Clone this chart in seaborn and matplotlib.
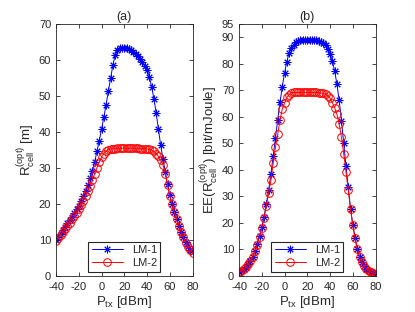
import numpy as np
import matplotlib
matplotlib.use('Agg')
import matplotlib.pyplot as plt
import seaborn as sns

# potência de transmissão (dBm), passo de 2 dB
p_tx = np.arange(-40, 81, 2)

# (a) raio ótimo da célula [m]
r_lm1 = [10.0, 10.9, 11.8, 12.7, 13.7, 14.7, 15.6, 16.5, 17.5, 18.5,
         19.5, 20.8, 22.1, 23.6, 25.3, 27.2, 29.3, 31.8, 34.6, 37.6,
         40.8, 44.1, 47.6, 51.3, 55.0, 58.6, 61.4, 62.7, 63.2, 63.3,
         63.3, 63.2, 63.0, 62.7, 62.3, 61.8, 61.1, 60.3, 59.4, 58.4,
         57.2, 55.4, 52.6, 49.3, 45.3, 40.8, 36.3, 32.5, 29.0, 25.5,
         22.5, 20.0, 17.8, 15.8, 14.0, 12.3, 10.8, 9.4, 8.2, 7.3, 6.6]
r_lm2 = [9.8, 10.6, 11.4, 12.2, 13.0, 13.9, 14.8, 15.7, 16.6, 17.6,
         18.6, 19.7, 20.9, 22.2, 23.6, 25.1, 26.7, 28.4, 30.1, 31.7,
         33.0, 34.0, 34.7, 35.1, 35.3, 35.4, 35.4, 35.5, 35.5, 35.5,
         35.5, 35.5, 35.5, 35.5, 35.5, 35.5, 35.5, 35.4, 35.4, 35.4,
         35.3, 35.2, 35.0, 34.6, 34.0, 33.2, 32.2, 30.9, 28.4, 25.3,
         22.3, 19.9, 17.7, 15.7, 13.9, 12.2, 10.7, 9.3, 8.1, 7.2, 6.5]

# (b) eficiência energética [bit/mJoule]
ee_lm1 = [1.5, 1.9, 2.6, 3.5, 4.5, 5.7, 7.2, 9.5, 11.9, 15.0,
          18.3, 22.3, 27.3, 32.3, 38.6, 45.1, 52.1, 58.9, 65.5, 71.4,
          76.6, 80.8, 84.0, 85.8, 87.2, 88.2, 88.7, 88.9, 88.9, 88.9,
          88.9, 88.9, 88.9, 88.9, 88.9, 88.7, 88.4, 87.9, 87.0, 85.6,
          83.7, 81.2, 77.4, 72.4, 66.2, 58.6, 50.1, 41.4, 33.6, 25.4,
          19.2, 14.2, 10.0, 7.1, 5.1, 3.6, 2.6, 1.9, 1.4, 1.1, 0.9]
ee_lm2 = [1.5, 1.9, 2.6, 3.5, 4.5, 5.7, 7.2, 9.4, 11.8, 14.8,
          18.0, 21.9, 26.5, 31.2, 36.0, 42.5, 48.5, 53.5, 58.8, 62.9,
          65.1, 67.3, 68.3, 69.0, 69.2, 69.2, 69.2, 69.2, 69.2, 69.2,
          69.2, 69.2, 69.2, 69.2, 69.2, 69.1, 69.0, 68.9, 68.6, 68.0,
          67.0, 65.4, 63.5, 61.0, 57.3, 52.3, 46.0, 39.2, 32.3, 25.1,
          19.2, 14.2, 10.0, 7.1, 5.1, 3.6, 2.6, 1.9, 1.4, 1.1, 0.9]

x_ticks = [-40, -20, 0, 20, 40, 60, 80]
cinza = '#262626'

sns.set_style('ticks')
plt.rcParams['font.family'] = ['Liberation Sans', 'DejaVu Sans']
plt.rcParams['xtick.direction'] = 'in'
plt.rcParams['ytick.direction'] = 'in'
plt.rcParams['axes.unicode_minus'] = False
plt.rcParams['mathtext.fontset'] = 'custom'
plt.rcParams['mathtext.rm'] = 'Liberation Sans'

fig = plt.figure(figsize=(4.15, 3.12), dpi=100)
ax1 = fig.add_axes([0.135, 0.1154, 0.329, 0.8077])
ax2 = fig.add_axes([0.576, 0.1154, 0.329, 0.8077])


def desenha(ax, y1, y2):
    sns.lineplot(x=p_tx, y=y1, ax=ax, color='blue', marker=(8, 2, 0), markersize=5.5,
                 markeredgecolor='blue', markeredgewidth=0.7, linewidth=0.7,
                 label='LM-1')
    sns.lineplot(x=p_tx, y=y2, ax=ax, color='red', marker='o', markersize=5.5,
                 markeredgecolor='red', markerfacecolor='none', markeredgewidth=0.7,
                 linewidth=0.7, label='LM-2')
    ax.set_xlim(-40, 80)
    ax.set_xticks(x_ticks)
    for s in ax.spines.values():
        s.set_color(cinza)
        s.set_linewidth(0.6)
    ax.tick_params(top=True, right=True, labelsize=8, length=3, width=0.6,
                   colors=cinza)
    ax.tick_params(axis='x', pad=4.5)
    ax.tick_params(axis='y', pad=3.5)
    ax.set_xlabel(r'P$_{\rm tx}$ [dBm]', fontsize=9.5, color=cinza, labelpad=1)
    leg = ax.legend(loc='lower center', fontsize=8, fancybox=False,
                    edgecolor=cinza, framealpha=1, handlelength=2.8,
                    borderpad=0.3, labelspacing=0.3, borderaxespad=0.4)
    leg.get_frame().set_linewidth(0.8)


desenha(ax1, r_lm1, r_lm2)
ax1.set_ylim(0, 70)
ax1.set_yticks(range(0, 71, 10))
ax1.set_title('(a)', fontsize=9, pad=3, color=cinza)
ax1.set_ylabel(r'R$_{\rm cell}^{\rm (opt)}$ [m]', fontsize=9.5, color=cinza, labelpad=1)

desenha(ax2, ee_lm1, ee_lm2)
ax2.set_ylim(0, 95)
ax2.set_yticks(list(range(0, 91, 10)) + [95])
ax2.set_title('(b)', fontsize=9, pad=3, color=cinza)
ax2.set_ylabel(r'EE(R$_{\rm cell}^{\rm (opt)}$) [bit/mJoule]', fontsize=9.5,
               color=cinza, labelpad=1)

fig.savefig('out.png', dpi=100)
